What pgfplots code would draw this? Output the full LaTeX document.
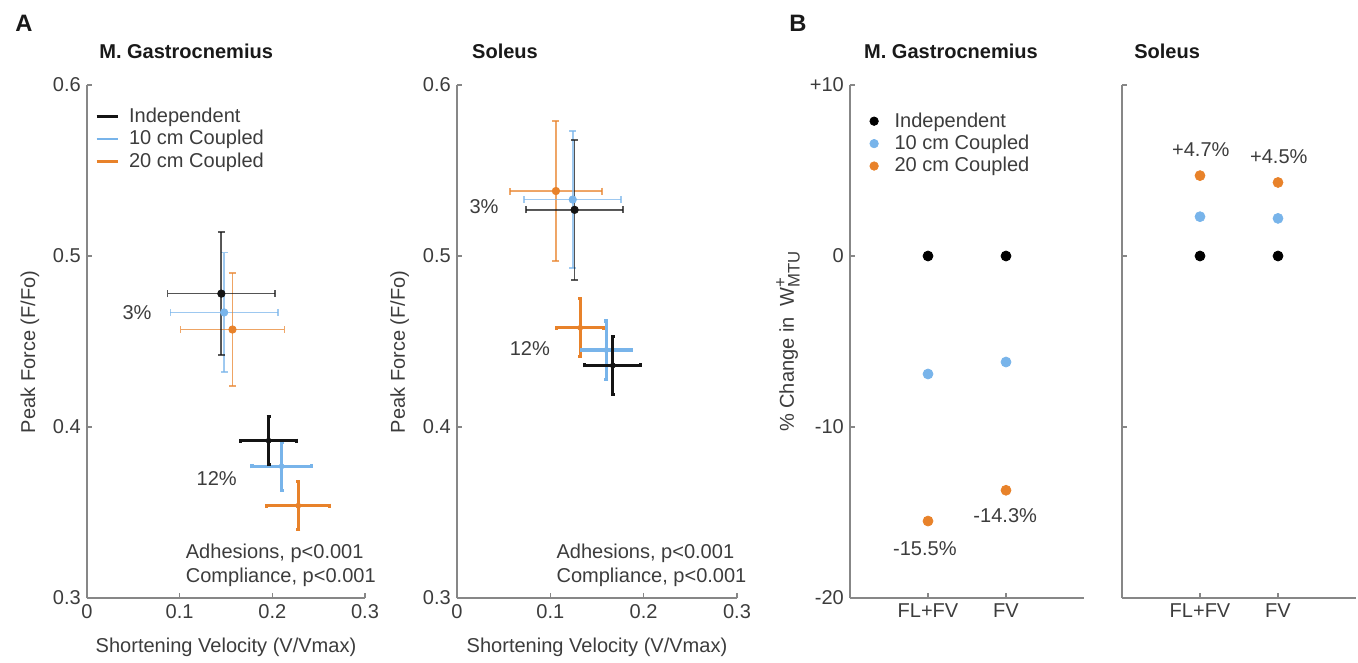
\documentclass[border=0pt]{standalone}
\usepackage{pgfplots}
\pgfplotsset{compat=1.18}
\usepackage{fontspec}
\setmainfont{Liberation Sans}

\definecolor{axcol}{RGB}{135,135,135}
\definecolor{txt}{RGB}{60,60,60}
\definecolor{ttl}{RGB}{25,25,25}
\definecolor{indc}{RGB}{20,20,20}
\definecolor{bluc}{RGB}{120,180,234}
\definecolor{orac}{RGB}{232,130,42}
\newcommand\fs{\fontsize{11.4}{13.5}\selectfont}

% one px of the reference = 0.02cm
\pgfplotsset{
  panel/.style={scale only axis, height=10.26cm,
    axis x line*=bottom, axis y line*=left,
    axis line style={axcol, line width=1pt},
    tick style={axcol, line width=0.8pt},
    tick align=inside, major tick length=0.1cm,
    ticklabel style={font=\fs, text=txt},
    label style={font=\fs, text=txt},
    title style={font=\fs\bfseries, text=ttl, anchor=base west},
    clip=false},
  pA/.style={panel, width=5.56cm, xmin=0, xmax=0.3, ymin=0.3, ymax=0.6,
    xtick={0,0.1,0.2,0.3}, xticklabels={0,0.1,0.2,0.3},
    ytick={0.3,0.4,0.5,0.6}, yticklabels={0.3,0.4,0.5,0.6},
    xlabel={Shortening Velocity (V/Vmax)}, ylabel={Peak Force (F/Fo)},
    xlabel style={at={(axis description cs:0.5,-0.097)}, anchor=center},
    ylabel style={at={(axis description cs:-0.205,0.48)}, anchor=center}},
  pB/.style={panel, width=4.68cm, xmin=0, xmax=3, ymin=-20, ymax=10,
    xtick={1,2}, xticklabels={FL+FV,FV}, ytick={-20,-10,0,10}},
  % 3% group: thin, pale bars
  thr/.style={only marks, mark=*, mark size=0.075cm, color=#1, fill=#1,
    /pgfplots/error bars/x dir=both, /pgfplots/error bars/x explicit,
    /pgfplots/error bars/y dir=both, /pgfplots/error bars/y explicit,
    /pgfplots/error bars/error bar style={line width=1pt, #1, opacity=0.7},
    /pgfplots/error bars/error mark options={#1, mark size=0.07cm, line width=1pt, rotate=90, opacity=0.7}},
  % 12% group: thick bars
  twl/.style={only marks, mark=*, mark size=0.05cm, color=#1, fill=#1,
    /pgfplots/error bars/x dir=both, /pgfplots/error bars/x explicit,
    /pgfplots/error bars/y dir=both, /pgfplots/error bars/y explicit,
    /pgfplots/error bars/error bar style={line width=1.8pt, #1},
    /pgfplots/error bars/error mark options={#1, mark size=0.04cm, line width=1.8pt, rotate=90}},
  dot/.style={only marks, mark=*, mark size=0.1cm, color=#1, fill=#1},
}

\begin{document}
\begin{tikzpicture}
\path[use as bounding box] (0,0) rectangle (27.16cm,13.24cm);

% ---- A: M. Gastrocnemius
\begin{axis}[pA, at={(1.74cm,1.28cm)}, anchor=south west,
  title={M. Gastrocnemius}, title style={at={(axis description cs:0.022,1.031)}},
  legend style={at={(axis description cs:0.028,0.961)}, anchor=north west,
    draw=none, fill=none, font=\fs, text=txt, inner sep=0pt,
    nodes={inner sep=1.5pt}, row sep=0pt},
  legend cell align=left,
  legend image code/.code={\draw[#1] (0cm,0cm) -- (0.42cm,0cm);
    \path (0.57cm,0cm);}]
\addlegendimage{indc, line width=1.6pt}\addlegendentry{Independent}
\addlegendimage{bluc, line width=1.6pt}\addlegendentry{10 cm Coupled}
\addlegendimage{orac, line width=1.6pt}\addlegendentry{20 cm Coupled}
\addplot[thr=bluc, forget plot] coordinates {(0.148,0.467) +- (0.058,0.035)};
\addplot[thr=orac, forget plot] coordinates {(0.157,0.457) +- (0.056,0.033)};
\addplot[thr=indc, forget plot] coordinates {(0.145,0.478) +- (0.058,0.036)};
\addplot[twl=orac, forget plot] coordinates {(0.228,0.354) +- (0.034,0.014)};
\addplot[twl=bluc, forget plot] coordinates {(0.210,0.377) +- (0.032,0.014)};
\addplot[twl=indc, forget plot] coordinates {(0.196,0.392) +- (0.030,0.014)};
\node[font=\fs, text=txt] at (axis cs:0.054,0.467) {3\%};
\node[font=\fs, text=txt] at (axis cs:0.140,0.370) {12\%};
\node[font=\fs, text=txt, anchor=west] at (axis cs:0.100,0.326) {Adhesions, p<0.001};
\node[font=\fs, text=txt, anchor=west] at (axis cs:0.100,0.312) {Compliance, p<0.001};
\node[font=\fontsize{13.5}{15}\selectfont\bfseries, text=ttl, anchor=base west]
  at (axis description cs:-0.28,1.105) {A};
\end{axis}

% ---- A: Soleus
\begin{axis}[pA, at={(9.14cm,1.28cm)}, anchor=south west, width=5.60cm,
  title={Soleus}, title style={at={(axis description cs:0.032,1.031)}}]
\addplot[thr=orac] coordinates {(0.106,0.538) +- (0.049,0.041)};
\addplot[thr=bluc] coordinates {(0.124,0.533) +- (0.052,0.040)};
\addplot[thr=indc] coordinates {(0.126,0.527) +- (0.052,0.041)};
\addplot[twl=orac] coordinates {(0.132,0.458) +- (0.025,0.017)};
\addplot[twl=bluc] coordinates {(0.160,0.445) +- (0.027,0.017)};
\addplot[twl=indc] coordinates {(0.167,0.436) +- (0.030,0.017)};
\node[font=\fs, text=txt] at (axis cs:0.029,0.529) {3\%};
\node[font=\fs, text=txt] at (axis cs:0.078,0.446) {12\%};
\node[font=\fs, text=txt, anchor=west] at (axis cs:0.100,0.326) {Adhesions, p<0.001};
\node[font=\fs, text=txt, anchor=west] at (axis cs:0.100,0.312) {Compliance, p<0.001};
\end{axis}

% ---- B: M. Gastrocnemius
\begin{axis}[pB, at={(17.00cm,1.28cm)}, anchor=south west,
  yticklabels={-20,-10,0,+10},
  ylabel={\% Change in\ \ W\rlap{\raisebox{0.75ex}{\fontsize{9.5}{10}\selectfont +}}\raisebox{-0.55ex}{\fontsize{9.5}{10}\selectfont MTU}},
  ylabel style={at={(axis description cs:-0.265,0.5)}, anchor=center},
  title={M. Gastrocnemius}, title style={at={(axis description cs:0.034,1.031)}},
  legend style={at={(axis description cs:0.068,0.952)}, anchor=north west,
    draw=none, fill=none, font=\fs, text=txt, inner sep=0pt,
    nodes={inner sep=1.5pt}, row sep=0pt},
  legend cell align=left,
  legend image code/.code={\draw[#1, only marks, mark size=0.085cm] plot coordinates {(0.15cm,0cm)};
    \path (0cm,0cm) (0.5cm,0cm);}]
\addplot[dot=black] coordinates {(1,0) (2,0)};
\addlegendentry{Independent}
\addplot[dot=bluc] coordinates {(1,-6.9) (2,-6.2)};
\addlegendentry{10 cm Coupled}
\addplot[dot=orac] coordinates {(1,-15.5) (2,-13.7)};
\addlegendentry{20 cm Coupled}
\node[font=\fs, text=txt] at (axis cs:0.96,-17.1) {-15.5\%};
\node[font=\fs, text=txt] at (axis cs:1.99,-15.2) {-14.3\%};
\node[font=\fontsize{13.5}{15}\selectfont\bfseries, text=ttl, anchor=base west]
  at (axis description cs:-0.286,1.105) {B};
\end{axis}

% ---- B: Soleus
\begin{axis}[pB, at={(22.44cm,1.28cm)}, anchor=south west,
  yticklabels={},
  title={Soleus}, title style={at={(axis description cs:0.026,1.031)}}]
\addplot[dot=black] coordinates {(1,0) (2,0)};
\addplot[dot=bluc] coordinates {(1,2.3) (2,2.2)};
\addplot[dot=orac] coordinates {(1,4.7) (2,4.3)};
\node[font=\fs, text=txt] at (axis cs:1.01,6.2) {+4.7\%};
\node[font=\fs, text=txt] at (axis cs:2.01,5.8) {+4.5\%};
\end{axis}
\end{tikzpicture}
\end{document}
